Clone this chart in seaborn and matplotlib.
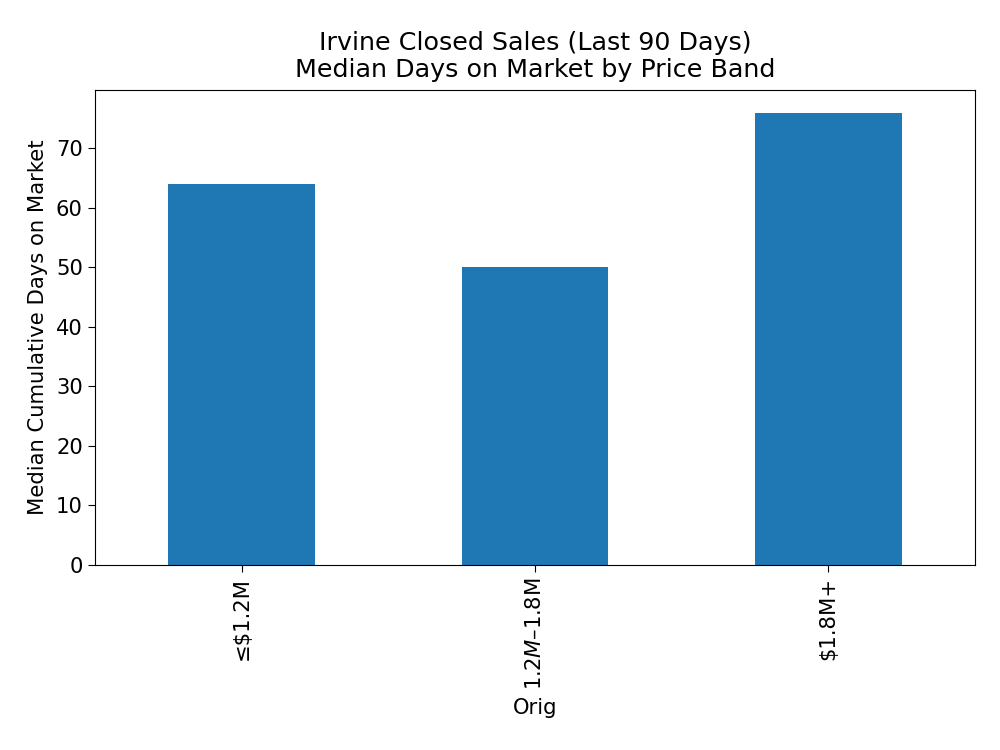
import pandas as pd
import numpy as np
import matplotlib
matplotlib.use("Agg")
import matplotlib.pyplot as plt
import seaborn as sns

# median cumulative days on market per price band
price_bands = ['≤$1.2M', '$1.2M–$1.8M', '$1.8M+']
median_dom = [64, 50, 76]

df = pd.DataFrame({'Orig': price_bands, 'Median Cumulative Days on Market': median_dom})

scale = 1.52
plt.rcParams['font.family'] = ['DejaVu Sans']
plt.rcParams['font.size'] = 10 * scale

fig = plt.figure(figsize=(10, 7.5), dpi=100)
ax = fig.add_axes([0.095, 0.2467, 0.88, 0.6333])

sns.barplot(data=df, x='Orig', y='Median Cumulative Days on Market',
            color='#1f77b4', saturation=1, width=0.5, ax=ax)

ax.set_ylim(0, max(median_dom) * 1.05)
ax.set_xlim(-0.5, len(price_bands) - 0.5)
ax.tick_params(axis='x', rotation=90, labelsize=10 * scale, length=3.5 * scale)
ax.tick_params(axis='y', labelsize=10 * scale, length=3.5 * scale)
ax.set_xlabel('Orig', fontsize=10 * scale, labelpad=6)
ax.set_ylabel('Median Cumulative Days on Market', fontsize=10 * scale, labelpad=6)
ax.set_title('Irvine Closed Sales (Last 90 Days)\nMedian Days on Market by Price Band',
             fontsize=12 * scale, pad=6 * scale)

fig.savefig('out.png', dpi=100)
